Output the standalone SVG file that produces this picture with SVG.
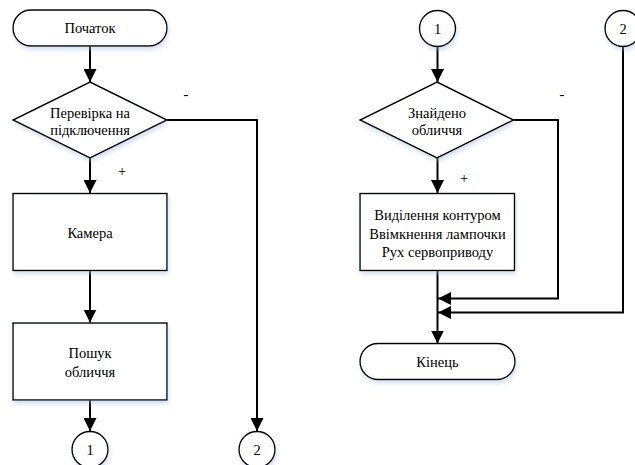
<svg xmlns="http://www.w3.org/2000/svg" width="635" height="465" viewBox="0 0 635 465">
<style>
.s{fill:#fff;stroke:#000;stroke-width:1.4}
text{font-family:'Liberation Serif','Times New Roman','DejaVu Serif',serif;font-size:14.5px;fill:#000;text-anchor:middle;dominant-baseline:central}
.c{fill:none;stroke:#000;stroke-width:2}
</style>
<defs>
<marker id="ah" markerUnits="userSpaceOnUse" markerWidth="14" markerHeight="13" refX="13" refY="6.5" orient="auto">
<path d="M0,0 L13,6.5 L0,13 Z" fill="#000"/>
</marker>
<filter id="sh" x="-10%" y="-10%" width="130%" height="140%">
<feGaussianBlur in="SourceAlpha" stdDeviation="2"/>
<feOffset dx="1" dy="3" result="b"/>
<feFlood flood-color="#9db8d9" flood-opacity="0.45"/>
<feComposite in2="b" operator="in"/>
<feMerge><feMergeNode/><feMergeNode in="SourceGraphic"/></feMerge>
</filter>
</defs>
<g id="connectors">
<line class="c" x1="90" y1="46" x2="90" y2="82" marker-end="url(#ah)"/>
<line class="c" x1="90" y1="158" x2="90" y2="193" marker-end="url(#ah)"/>
<line class="c" x1="90" y1="271" x2="90" y2="322.5" marker-end="url(#ah)"/>
<line class="c" x1="90" y1="400" x2="90" y2="431" marker-end="url(#ah)"/>
<polyline class="c" points="167,120 257,120 257,431" marker-end="url(#ah)"/>
<line class="c" x1="437.5" y1="46.5" x2="437.5" y2="82" marker-end="url(#ah)"/>
<line class="c" x1="437.5" y1="158" x2="437.5" y2="193" marker-end="url(#ah)"/>
<line class="c" x1="437.5" y1="271" x2="437.5" y2="343.5" marker-end="url(#ah)"/>
<polyline class="c" points="513,120 558,120 558,298.5 438,298.5" marker-end="url(#ah)"/>
<polyline class="c" points="623,46.5 623,312.5 438,312.5" marker-end="url(#ah)"/>
<text x="186" y="94">-</text>
<text x="122" y="171">+</text>
<text x="562" y="94">-</text>
<text x="464" y="178">+</text>
</g>
<g id="start"><rect class="s" filter="url(#sh)" x="13" y="10" width="154" height="36" rx="18"/><text x="90" y="28">Початок</text></g>
<g id="check"><polygon class="s" filter="url(#sh)" points="90,82 167,120 90,158 13,120"/><text x="90" y="113">Перевірка на</text><text x="90" y="129.5">підключення</text></g>
<g id="camera"><rect class="s" filter="url(#sh)" x="13" y="193.5" width="154" height="77"/><text x="90" y="233">Камера</text></g>
<g id="search"><rect class="s" filter="url(#sh)" x="13" y="323" width="154" height="77"/><text x="90" y="353">Пошук</text><text x="90" y="371.5">обличчя</text></g>
<g id="c1a"><circle class="s" filter="url(#sh)" cx="90" cy="449.5" r="18"/><text x="90" y="449.5">1</text></g>
<g id="c2a"><circle class="s" filter="url(#sh)" cx="257" cy="449.5" r="18"/><text x="257" y="449.5">2</text></g>
<g id="c1b"><circle class="s" filter="url(#sh)" cx="437.5" cy="28.5" r="18"/><text x="437.5" y="28.5">1</text></g>
<g id="c2b"><circle class="s" filter="url(#sh)" cx="623" cy="28.5" r="18"/><text x="623" y="28.5">2</text></g>
<g id="found"><polygon class="s" filter="url(#sh)" points="437,82 513.5,120 437,158 360,120"/><text x="437" y="113">Знайдено</text><text x="437" y="129.5">обличчя</text></g>
<g id="actions"><rect class="s" filter="url(#sh)" x="360" y="193.5" width="154.5" height="77"/><text x="437.5" y="215">Виділення контуром</text><text x="437.5" y="233.5">Ввімкнення лампочки</text><text x="437.5" y="252">Рух сервоприводу</text></g>
<g id="end"><rect class="s" filter="url(#sh)" x="360" y="343.5" width="155" height="36" rx="18"/><text x="437.5" y="362">Кінець</text></g>
</svg>
